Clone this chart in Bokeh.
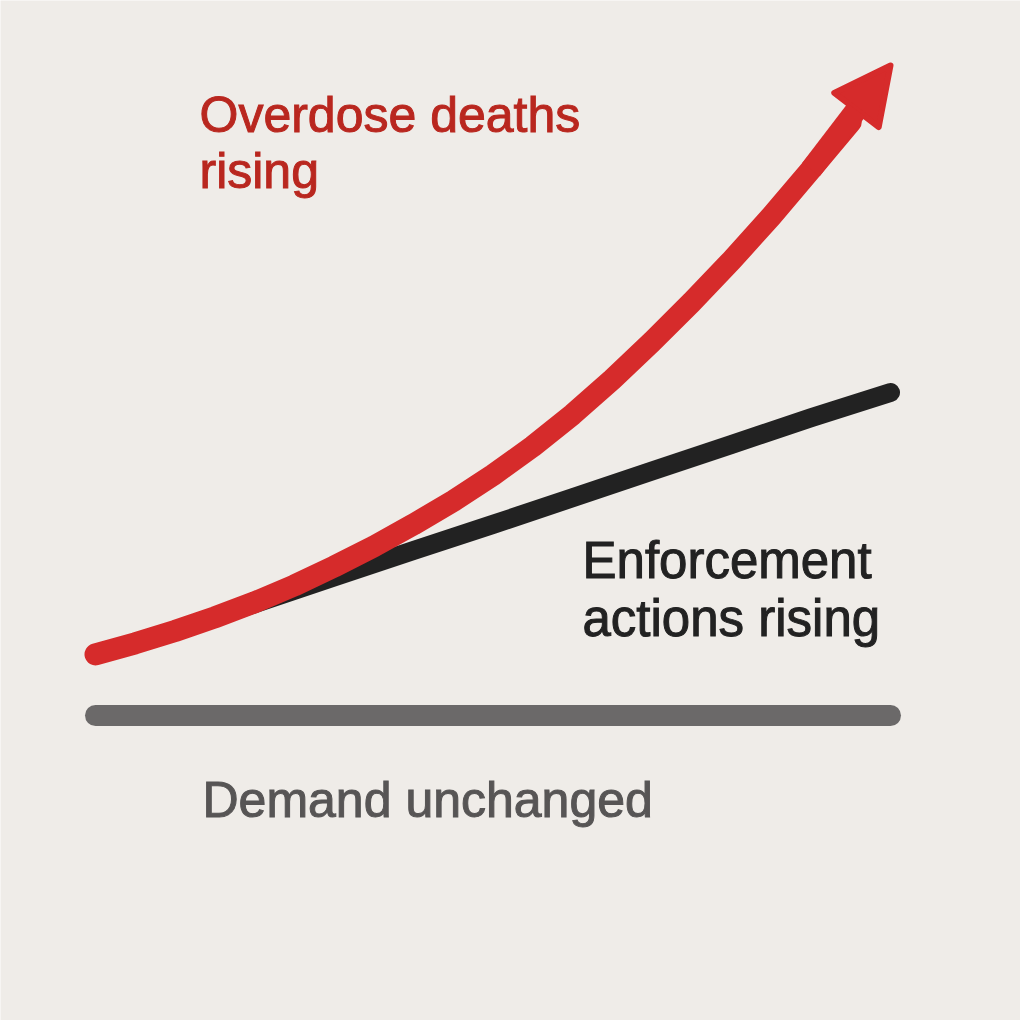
from bokeh.plotting import figure
from bokeh.models import Range1d, Arrow, NormalHead, Label
from bokeh.embed import file_html
from bokeh.resources import INLINE

# ---- data (time steps, index values) ----
steps = [0, 0.5, 1, 1.5, 2, 2.5, 3, 3.5, 4, 4.5, 5, 5.5, 6, 6.5, 7, 7.5, 8, 8.5, 9, 9.5, 10]
overdose_deaths = [9.4, 11.1, 13.0, 15.1, 17.4, 20.0, 22.9, 26.0, 29.4, 33.0, 37.0,
                   41.4, 46.3, 51.7, 57.5, 63.6, 70.0, 76.8, 84.0, 91.3, 100]
enforcement_steps = [1, 2, 3, 4, 5, 6, 7, 8, 9, 10]
enforcement_actions = [13.1, 17.2, 21.3, 25.4, 29.4, 33.5, 37.6, 41.7, 45.8, 49.7]
demand_steps = [0, 10]
demand = [0, 0]

label_overdose = ["Overdose deaths", "rising"]
label_enforcement = ["Enforcement", "actions rising"]
label_demand = ["Demand unchanged"]

BG = "#efece8"
RED = "#d62b2b"
RED_TEXT = "#b9271f"
BLACK = "#222222"
GRAY = "#6b6969"
GRAY_TEXT = "#575555"
FONT = "Liberation Sans"

W, H = 1020, 1020
px_per_x = 79.5
px_per_y = 6.5
x0 = -95 / px_per_x
y_top = 715 / px_per_y

p = figure(width=W, height=H, output_backend="svg", toolbar_location=None,
           x_range=Range1d(x0, x0 + W / px_per_x),
           y_range=Range1d(y_top - H / px_per_y, y_top),
           min_border=0)
p.axis.visible = False
p.grid.visible = False
p.outline_line_color = None
p.background_fill_color = BG
p.border_fill_color = BG

# demand (flat)
p.line(demand_steps, demand, line_color=GRAY, line_width=21, line_cap="round")

# enforcement
p.line(enforcement_steps, enforcement_actions, line_color=BLACK, line_width=19,
       line_cap="round", line_join="round")

# overdose deaths with arrow head
p.line(steps[:-1], overdose_deaths[:-1], line_color=RED, line_width=22,
       line_cap="round", line_join="round")
p.add_layout(Arrow(end=NormalHead(size=56, fill_color=RED, line_color=RED,
                                  line_width=6, line_join="round"),
                   x_start=steps[-3], y_start=overdose_deaths[-3],
                   x_end=steps[-1], y_end=overdose_deaths[-1],
                   line_color=RED, line_width=22))

def add_text(lines, x_px, base_px, dy_px, color, size):
    for k, t in enumerate(lines):
        p.add_layout(Label(x=(x_px - 95) / px_per_x,
                           y=(715 - (base_px + k * dy_px)) / px_per_y,
                           text=t, text_color=color,
                           text_font=FONT, text_font_size=size,
                           text_outline_color=color,
                           text_baseline="alphabetic", text_align="left"))

SHIFT = 19
add_text(label_overdose, 199, 133 - SHIFT, 56, RED_TEXT, "50px")
add_text(label_enforcement, 582, 579 - SHIFT, 58, BLACK, "51px")
add_text(label_demand, 202, 818 - SHIFT, 0, GRAY_TEXT, "50px")

html = file_html(p, INLINE)
html = html.replace("<body>", '<body style="background:%s;">' % BG, 1)
open("out.html", "w").write(html)
